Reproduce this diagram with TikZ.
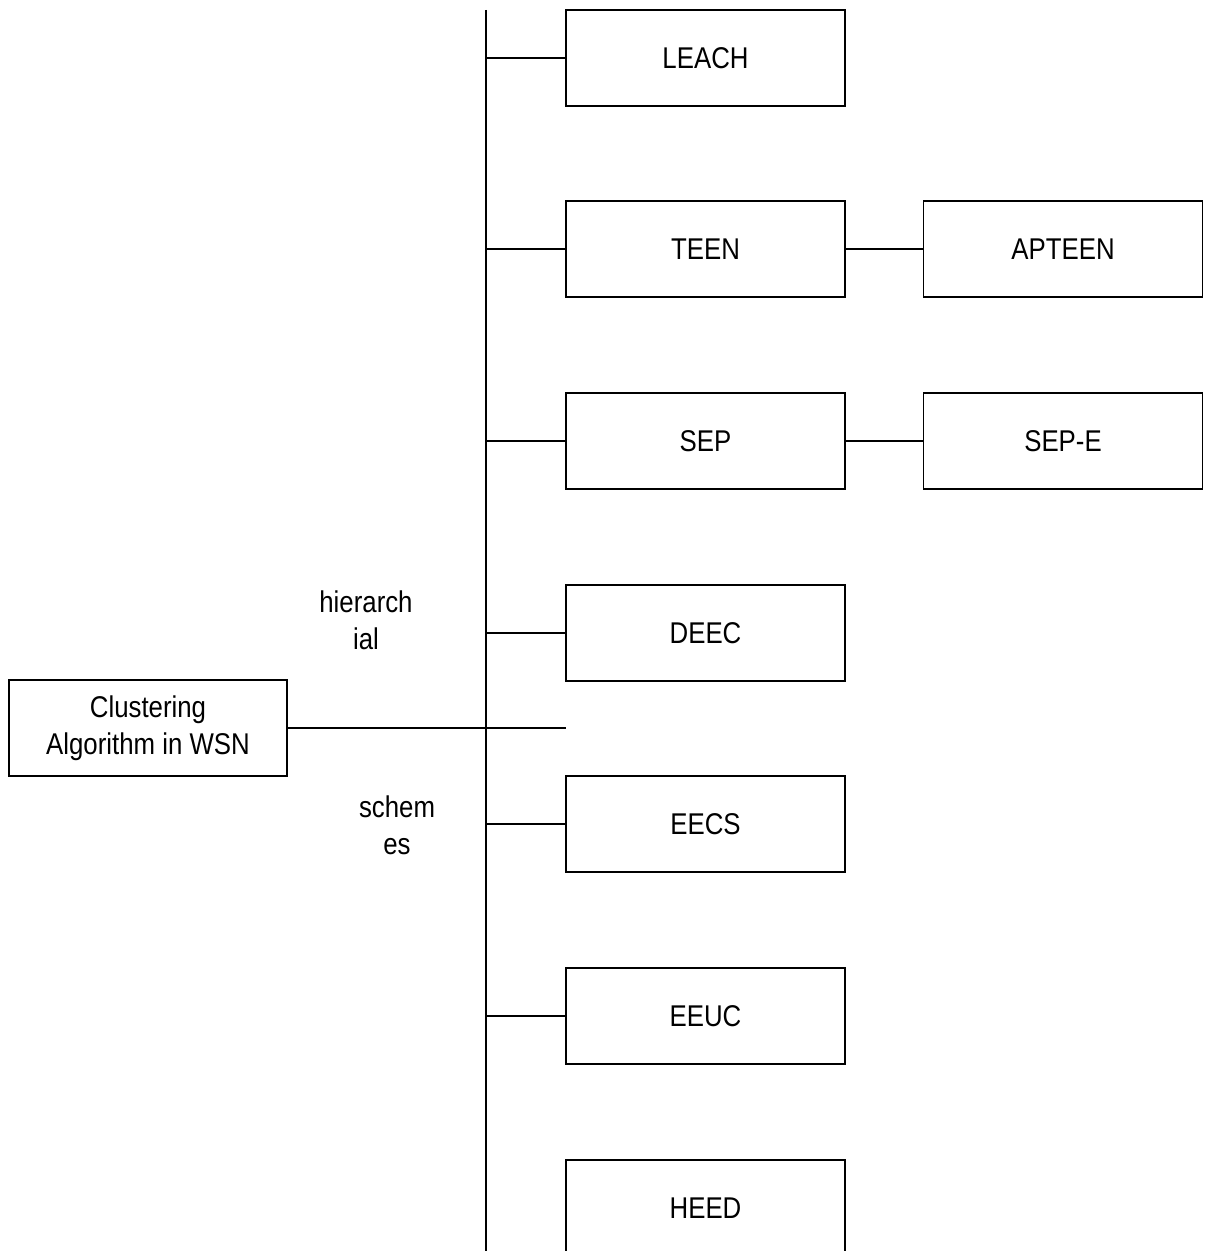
\documentclass[tikz,border=0pt]{standalone}
\usepackage{fontspec}
\setmainfont{Liberation Sans}[FakeStretch=0.86]
\begin{document}
\begin{tikzpicture}[x=0.75pt,y=-0.75pt,
  every node/.style={font=\fontsize{22.5pt}{28pt}\selectfont},
  scheme/.style={draw,line width=1.1pt,minimum width=279*0.75pt,minimum height=96*0.75pt,inner sep=0pt,align=center},
  wire/.style={line width=1.1pt},
  caption/.style={align=center,inner sep=0pt}]
\clip (0,0) rectangle (1204,1251);

% main column of schemes
\node[scheme] (leach) at (705.5,58)    {LEACH};
\node[scheme] (teen)  at (705.5,249)   {TEEN};
\node[scheme] (sep)   at (705.5,441)   {SEP};
\node[scheme] (deec)  at (705.5,633)   {DEEC};
\node[scheme] (eecs)  at (705.5,824)   {EECS};
\node[scheme] (eeuc)  at (705.5,1016)  {EEUC};
\node[scheme] (heed)  at (705.5,1208)  {HEED};

% derived schemes
\node[scheme] (apteen) at (1063,249) {APTEEN};
\node[scheme] (sepe)   at (1063,441) {SEP-E};

% root
\node[scheme,minimum width=278*0.75pt] (root) at (148,728) {Clustering\\Algorithm in WSN};

% side captions
\node[caption] (hier) at (366,620) {hierarch\\ial};
\node[caption] (schm) at (397,825) {schem\\es};

% spine and branches
\coordinate (top) at (486,10);
\coordinate (bot) at (486,1251);
\draw[wire] (top) -- (bot);
\coordinate (j1) at (486,58);
\coordinate (j2) at (486,249);
\coordinate (j3) at (486,441);
\coordinate (j4) at (486,633);
\coordinate (j5) at (486,824);
\coordinate (j6) at (486,1016);
\coordinate (rootend) at (566,728);
\draw[wire] (j1) -- (leach.west);
\draw[wire] (j2) -- (teen.west);
\draw[wire] (j3) -- (sep.west);
\draw[wire] (j4) -- (deec.west);
\draw[wire] (j5) -- (eecs.west);
\draw[wire] (j6) -- (eeuc.west);
\draw[wire] (root.east) -- (rootend);
\draw[wire] (teen.east) -- (apteen.west);
\draw[wire] (sep.east) -- (sepe.west);
\end{tikzpicture}
\end{document}
